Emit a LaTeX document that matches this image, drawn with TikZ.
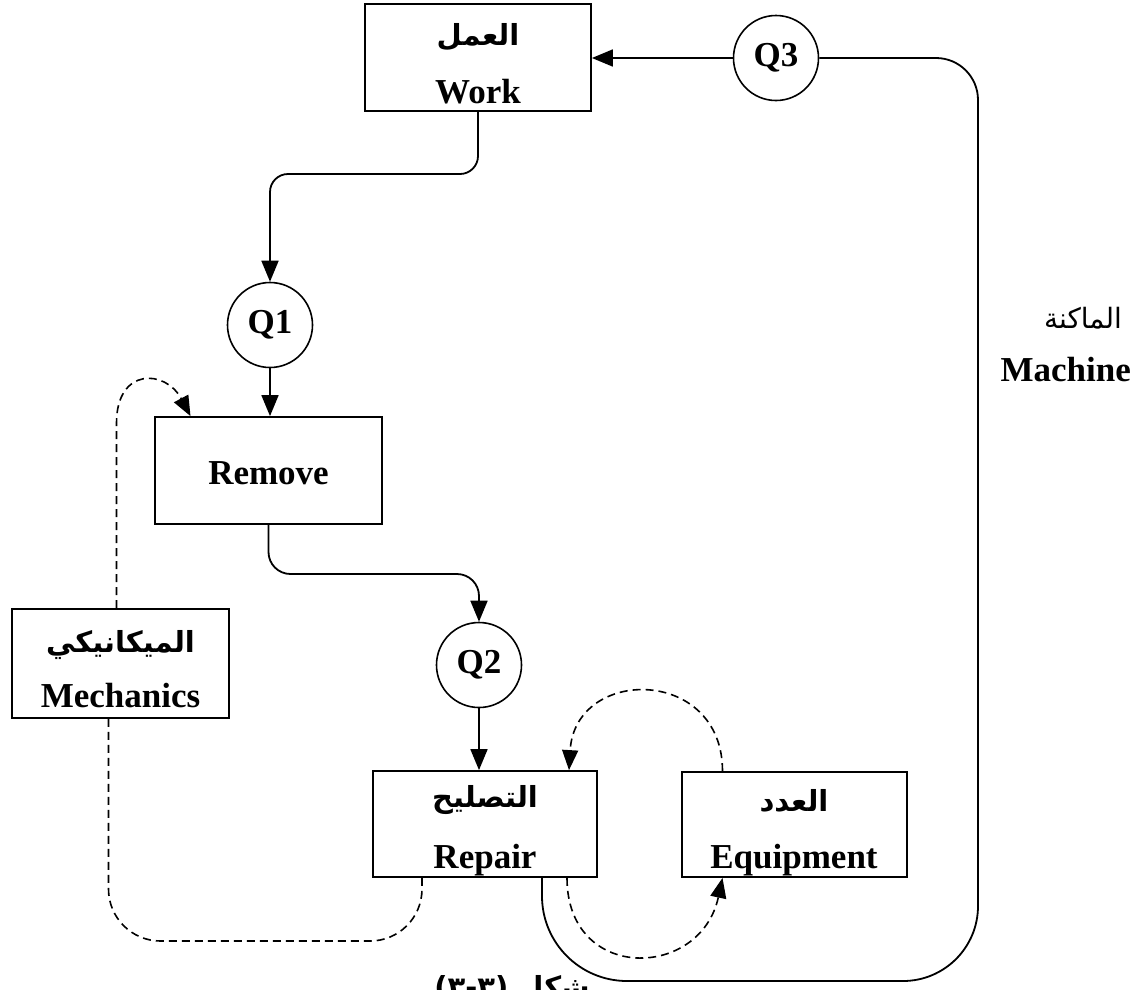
\documentclass[tikz,border=0pt]{standalone}
\usepackage{fontspec}
\setmainfont{Liberation Serif}
\newfontfamily\arabicfont[Script=Arabic]{DejaVu Sans}
\TeXXeTstate=1
\usetikzlibrary{arrows.meta,calc}
\newcommand\entxt{\fontsize{35}{40}\selectfont\bfseries}
\newcommand\artxt{\arabicfont\fontsize{29}{34}\selectfont\bfseries}
\newcommand\arlight{\arabicfont\fontsize{28}{34}\selectfont}
\tikzset{
  box/.style={draw, line width=1.8pt, inner sep=0pt},
  qc/.style={draw, circle, line width=1.6pt, minimum size=85pt, inner sep=0pt, font=\entxt},
  en/.style={font=\entxt, inner sep=0pt},
  ar/.style={font=\artxt, inner sep=0pt},
  conn/.style={line width=1.8pt},
  flow/.style={conn, -{Triangle[width=17pt,length=21pt]}},
  dashconn/.style={line width=1.6pt, dash pattern=on 8pt off 5pt},
  dashflow/.style={dashconn, -{Triangle[width=16pt,length=20pt]}},
}
\begin{document}
\begin{tikzpicture}[x=1pt,y=-1pt]
\useasboundingbox (0,0) rectangle (1133,989);
\fill[white] (0,0) rectangle (1133,989);

% boxes
\node[box, minimum width=226pt, minimum height=107pt] (work) at (478,57.5) {};
\node[ar] (workar) at (478,37) {\beginR العمل\endR};
\node[en, anchor=base] (worken) at (478,103) {Work};

\node[box, minimum width=227pt, minimum height=107pt] (remove) at (268.5,470.5) {};
\node[en, anchor=base] (removeen) at (268.5,484) {Remove};

\node[box, minimum width=224pt, minimum height=106pt] (repair) at (485,824) {};
\node[ar] (repairar) at (485,800) {\beginR التصليح\endR};
\node[en, anchor=base] (repairen) at (485,868) {Repair};

\node[box, minimum width=225pt, minimum height=105pt] (equip) at (794.5,824.5) {};
\node[ar] (equipar) at (794,801) {\beginR العدد\endR};
\node[en, anchor=base] (equipen) at (794,868) {Equipment};

\node[box, minimum width=217pt, minimum height=109pt] (mech) at (120.5,663.5) {};
\node[ar] (mechar) at (120.5,645) {\beginR الميكانيكي\endR};
\node[en, anchor=base] (mechen) at (120.5,707) {Mechanics};

\node[ar, font=\arlight] (machar) at (1083,318) {\beginR الماكنة\endR};
\node[en, anchor=base east] (machen) at (1131,381) {Machine};

% queues
\node[qc] (q3) at (776,58) {Q3};
\node[qc] (q1) at (270,325) {Q1};
\node[qc] (q2) at (479,665) {Q2};

% caption (cut at the bottom edge, as in the reference)
\node[ar, anchor=north] (cap) at (512,975) {(٣-٣) \beginR شكل\endR};

% solid connectors
\draw[flow] (q3.west) -- (work.east |- q3.west);

\coordinate (wq) at (0,174);
\draw[flow, rounded corners=18pt] (work.south) -- (work.south |- wq) -- (q1.north |- wq) -- (q1.north);

\draw[flow] (q1.south) -- (q1.south |- remove.north);

\coordinate (rq) at (0,574);
\draw[flow, rounded corners=22pt] (remove.south) -- (remove.south |- rq) -- (q2.north |- rq) -- (q2.north);

\draw[flow] (q2.south) -- (q2.south |- repair.north);

\coordinate (rp1) at ($(repair.south)+(57,0)$);
\coordinate (bot) at (0,981);
\coordinate (rightx) at (978,0);
\draw[conn] (rp1) [rounded corners=85pt] -- (rp1 |- bot) [rounded corners=75pt] -- (rightx |- bot) [rounded corners=42pt] -- (rightx |- q3.east) -- (q3.east);

% dashed connectors
\coordinate (mtop) at ($(mech.north)+(-4,0)$);
\coordinate (rtip) at ($(remove.north)+(-78,0)$);
\draw[dashflow] (mtop) -- ($(mtop)+(0,-185)$) .. controls ($(mtop)+(0,-241)$) and ($(rtip)+(-25,-47)$) .. (rtip);

\coordinate (rs2) at ($(repair.south)+(-63,0)$);
\coordinate (mbot) at ($(mech.south)+(-12,0)$);
\coordinate (dbot) at (0,941);
\draw[dashconn, rounded corners=52pt] (rs2) -- (rs2 |- dbot) -- (mbot |- dbot) -- (mbot);

\coordinate (etop) at ($(equip.north)+(-72,0)$);
\coordinate (rtop) at ($(repair.north)+(84,0)$);
\draw[dashflow] (etop) .. controls ($(etop)+(0,-105)$) and ($(rtop)+(6,-104)$) .. (rtop);

\coordinate (rs3) at ($(repair.south)+(82,0)$);
\coordinate (ebot) at ($(equip.south)+(-72,0)$);
\draw[dashflow] (rs3) .. controls ($(rs3)+(0,105)$) and ($(ebot)+(-22,102)$) .. (ebot);
\end{tikzpicture}
\end{document}
